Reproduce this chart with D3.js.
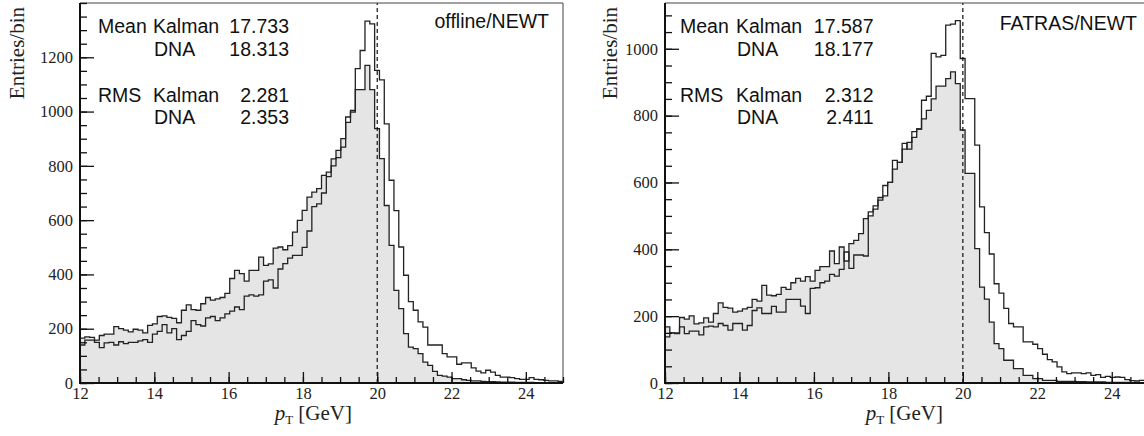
<!DOCTYPE html>
<html>
<head>
<meta charset="utf-8">
<script src="https://cdn.jsdelivr.net/npm/d3@7/dist/d3.min.js"></script>
<style>
    body { margin: 0; background: #fff; }
    svg { display: block; }
    .tick text { font-family: "Liberation Serif", "Times New Roman", serif; font-size: 16.5px; fill: #222; }
</style>
</head>
<body>
<svg width="1144" height="436"></svg>
<script>
// histogram binning (GeV)
var binStart = 12;
var binWidth = 0.13;

// offline/NEWT panel
var leftKalman = [165,170,168,158,175,180,180,208, 200,195,188,198,195,185,212,218,
    245,247,242,238,222,268,288,270, 268,292,315,305,310,315,330,385,
    415,403,375,415,415,464,433, 439,497,501,491,506,556,599,636,
    685,703,716,765,777,826,857, 900,960,1004,1081,1081,1170,1081,937,
    827,654,507,341,274,182,132,127,108,77, 65,43,28,25,22,16,16,12,10,8,
    8,6,5,5,4,3,3,3,2,2, 2,2,1,1,1,1,1,1];
var leftDNA = [140,158,158,150,130,148,150,140, 152,145,150,150,155,160,150,180,
    190,215,185,200,160,175,190,230, 215,210,240,245,230,240,255,265,
    280,270,320,325,320,325,375, 380,350,420,440,460,470,470,500,
    560,650,660,700,760,800,830, 869,980,998,1158,1225,1333,1323,1152,
    1117,955,747,635,501,397,300,268,225,206, 140,140,140,108,96,96,69,74,74,56,
    44,37,47,40,28,22,22,20,16,13, 13,20,13,12,10,8,8,6];

// FATRAS/NEWT panel
var rightKalman = [168,150,150,196,191,201,177,180,195,182,208,240,226,224,212,215,
    222,226,250,245,292,263,261,265,286,280,300,313,305,318,305,337,
    348,348,395,357,407,365,417,427,447,492,
    500,520,555,560,600,640,660,700,720,735,760,790,816,850,
    888,888,911,931,896,757,627,627,402,287,251,182,118,103,68,68,
    43,43,23,23,13,13,8,8,8,
    5,5,5,5,4,4,3,3,3,3,2,2,2,2,2,1,1,1,1];
var rightDNA = [138,150,148,168,148,155,155,144,168,170,168,178,172,158,178,178,
    158,172,217,225,208,208,229,212,212,250,250,250,230,208,283,285,
    300,305,325,320,340,392,343,383,383,380,
    512,530,547,591,600,666,660,717,700,752,760,846,858,986,
    976,980,1071,1074,1084,971,851,851,712,527,450,386,297,269,223,178,
    168,168,123,123,116,103,86,70,63,48,33,28,30,30,28,30,23,25,17,20,
    17,18,17,10,7,6,8,8];

var xMajor = [12, 14, 16, 18, 20, 22, 24];
var leftYMajor = [0, 200, 400, 600, 800, 1000, 1200];
var rightYMajor = [0, 200, 400, 600, 800, 1000];

var statRows = ['Mean', 'RMS'];
var statNames = ['Kalman', 'DNA'];
var leftStats = [['17.733', '18.313'], ['2.281', '2.353']];
var rightStats = [['17.587', '18.177'], ['2.312', '2.411']];

var svg = d3.select('svg');

function minorTicks(lo, hi, step) {
    var out = [];
    for (var v = lo; v <= hi + 1e-9; v += step) out.push(+v.toFixed(3));
    return out;
}

function histPoints(vals) {
    var pts = vals.map(function(v, i) { return [binStart + i * binWidth, v]; });
    pts.push([binStart + vals.length * binWidth, vals[vals.length - 1]]);
    return pts;
}

function drawPanel(p) {
    var top = 3, bottom = 383;
    var x = d3.scaleLinear().domain([12, 25]).range([p.left, p.right]);
    var y = d3.scaleLinear().domain([0, p.ymax]).range([bottom, top]);

    var g = svg.append('g');

    g.append('clipPath').attr('id', p.id)
        .append('rect')
        .attr('x', p.left).attr('y', top)
        .attr('width', p.right - p.left).attr('height', bottom - top);

    var plot = g.append('g').attr('clip-path', 'url(#' + p.id + ')');

    var area = d3.area()
        .curve(d3.curveStepAfter)
        .x(function(d) { return x(d[0]); })
        .y0(y(0))
        .y1(function(d) { return y(d[1]); });
    var line = d3.line()
        .curve(d3.curveStepAfter)
        .x(function(d) { return x(d[0]); })
        .y(function(d) { return y(d[1]); });

    plot.append('path')
        .attr('d', area(histPoints(p.kalman)))
        .style('fill', '#e5e5e5');
    plot.append('path')
        .attr('d', line(histPoints(p.kalman)))
        .style('fill', 'none').style('stroke', '#222').style('stroke-width', 1.3);
    plot.append('path')
        .attr('d', line(histPoints(p.dna)))
        .style('fill', 'none').style('stroke', '#222').style('stroke-width', 1.3);

    // dashed line at 20 GeV
    g.append('line')
        .attr('x1', x(20)).attr('x2', x(20))
        .attr('y1', bottom).attr('y2', top)
        .style('stroke', '#111').style('stroke-width', 1.2)
        .style('stroke-dasharray', '4,3');

    // frame
    g.append('path')
        .attr('d', 'M' + p.left + ',' + top + 'H' + p.right + 'V' + bottom)
        .style('fill', 'none').style('stroke', '#444').style('stroke-width', 1);

    // axes
    var fmt = d3.format('d');
    var yAxis = d3.axisLeft(y).tickValues(p.yMajor).tickFormat(fmt).tickSize(-14).tickPadding(7).tickSizeOuter(0);
    var yMinor = d3.axisLeft(y).tickValues(minorTicks(0, p.ymax, 50)).tickSize(-7).tickFormat('').tickSizeOuter(0);
    var xAxis = d3.axisBottom(x).tickValues(xMajor).tickFormat(fmt).tickSize(-11).tickPadding(4).tickSizeOuter(0);
    var xMinor = d3.axisBottom(x).tickValues(minorTicks(12, 25, 0.5)).tickSize(-6).tickFormat('').tickSizeOuter(0);

    [g.append('g').attr('transform', 'translate(' + p.left + ',0)').call(yMinor),
     g.append('g').attr('transform', 'translate(' + p.left + ',0)').call(yAxis),
     g.append('g').attr('transform', 'translate(0,' + bottom + ')').call(xMinor),
     g.append('g').attr('transform', 'translate(0,' + bottom + ')').call(xAxis)
    ].forEach(function(a) {
        a.attr('font-family', null).attr('font-size', null);
        a.select('.domain').remove();
        a.selectAll('line').style('stroke', '#111').style('stroke-width', 1.3);
    });

    g.append('path')
        .attr('d', 'M' + p.left + ',' + top + 'V' + bottom + 'H' + p.right)
        .style('fill', 'none').style('stroke', '#111').style('stroke-width', 2);

    // axis titles
    g.append('text')
        .attr('transform', 'translate(' + p.ytitleX + ',' + 7 + ') rotate(-90)')
        .attr('text-anchor', 'end')
        .style('font-family', '"Liberation Serif", serif')
        .style('font-size', '21px')
        .style('fill', '#222')
        .text('Entries/bin');

    var xt = g.append('text')
        .attr('x', p.xtitleEnd).attr('y', 420)
        .attr('text-anchor', 'end')
        .style('font-family', '"Liberation Serif", serif')
        .style('font-size', '21px')
        .style('fill', '#222');
    xt.append('tspan').style('font-style', 'italic').text('p');
    xt.append('tspan').attr('dy', 4).style('font-size', '13px').text('T');
    xt.append('tspan').attr('dy', -4).text(' [GeV]');

    // statistics box
    var baselines = [[32.5, 56], [101.5, 124]];
    var st = g.append('g')
        .style('font-family', '"Liberation Sans", Arial, sans-serif')
        .style('font-size', '19.5px')
        .style('fill', '#111');
    statRows.forEach(function(row, r) {
        st.append('text').attr('x', p.left + p.statX[0]).attr('y', baselines[r][0]).text(row);
        statNames.forEach(function(name, n) {
            st.append('text').attr('x', p.left + p.statX[1] + n).attr('y', baselines[r][n]).text(name);
            st.append('text').attr('x', p.left + p.statX[2]).attr('y', baselines[r][n])
                .attr('text-anchor', 'end').text(p.stats[r][n]);
        });
    });

    g.append('text')
        .attr('x', p.labelEnd).attr('y', p.labelY)
        .attr('text-anchor', 'end')
        .style('font-family', '"Liberation Sans", Arial, sans-serif')
        .style('font-size', '19.5px')
        .style('fill', '#111')
        .text(p.label);
}

drawPanel({ id: 'clipL', left: 80, right: 563, ymax: 1400, yMajor: leftYMajor,
    kalman: leftKalman, dna: leftDNA, stats: leftStats, statX: [18, 73, 209],
    label: 'offline/NEWT', labelEnd: 549, labelY: 27.5, ytitleX: 24, xtitleEnd: 352 });

drawPanel({ id: 'clipR', left: 665, right: 1149, ymax: 1137, yMajor: rightYMajor,
    kalman: rightKalman, dna: rightDNA, stats: rightStats, statX: [15, 71, 208.5],
    label: 'FATRAS/NEWT', labelEnd: 1137, labelY: 29.5, ytitleX: 617, xtitleEnd: 943 });
</script>
</body>
</html>
